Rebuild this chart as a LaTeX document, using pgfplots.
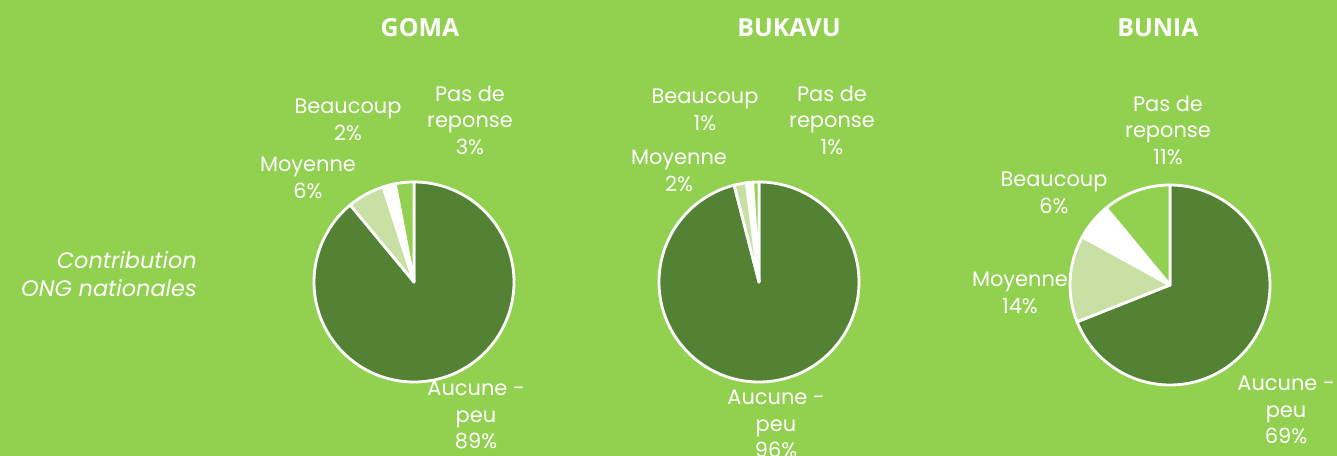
\documentclass[border=0pt]{standalone}
\usepackage{pgfplots}
\pgfplotsset{compat=1.18}
\usepackage{fontspec}
\setmainfont{Poppins}
\newfontfamily\titlefont{Open Sans}
\definecolor{bg}{HTML}{92D050}
\definecolor{dark}{HTML}{548235}
\definecolor{light}{HTML}{C9E0A5}

% pie centred at (#1,#2), slices clockwise from 12 o'clock: value/colour
\newcommand\pie[3]{%
  \xdef\ang{90}%
  \foreach \v/\c in {#3}{%
    \fill[\c,draw=white,line width=2.8bp,line join=round]
      (axis cs:#1,#2) -- ++(\ang:100bp)
      arc[start angle=\ang,delta angle=-3.6*\v,radius=100bp] -- cycle;
    \pgfmathparse{\ang-3.6*\v}\xdef\ang{\pgfmathresult}%
  }}

\tikzset{lab/.style={text=white,align=center,inner sep=0pt,
  font=\fontsize{21}{26.5}\selectfont},
  ttl/.style={text=white,font=\titlefont\bfseries\fontsize{25}{28}\selectfont}}

\begin{document}
\begin{tikzpicture}
\begin{axis}[x=1bp,y=1bp,xmin=0,xmax=1337,ymin=0,ymax=456,
  hide axis,scale only axis,clip=false,anchor=south west,at={(0,0)}]
\pgfplotsextra{%
  \fill[bg] (axis cs:0,0) rectangle (axis cs:1337,456);
  % GOMA
  \pie{414}{174}{89/dark,6/light,2/white,3/bg}
  % BUKAVU
  \pie{759}{174}{96/dark,2/light,1/white,1/bg}
  % BUNIA
  \pie{1170}{171}{69/dark,14/light,6/white,11/bg}
  % titles
  \node[ttl] at (axis cs:420,428) {GOMA};
  \node[ttl] at (axis cs:789,428) {BUKAVU};
  \node[ttl] at (axis cs:1158,428) {BUNIA};
  % side label
  \node[lab,align=right,anchor=east,font=\itshape\fontsize{22.5}{28}\selectfont] at (axis cs:197,182) {Contribution\\ONG nationales};
  % GOMA labels
  \node[lab] at (axis cs:348,336) {Beaucoup\\2\%};
  \node[lab] at (axis cs:470,336) {Pas de\\reponse\\3\%};
  \node[lab] at (axis cs:308,278) {Moyenne\\6\%};
  \node[lab] at (axis cs:476,41) {Aucune -\\peu\\89\%};
  % BUKAVU labels
  \node[lab] at (axis cs:705,346) {Beaucoup\\1\%};
  \node[lab] at (axis cs:832,336) {Pas de\\reponse\\1\%};
  \node[lab] at (axis cs:679,285) {Moyenne\\2\%};
  \node[lab] at (axis cs:776,32) {Aucune -\\peu\\96\%};
  % BUNIA labels
  \node[lab] at (axis cs:1168,326) {Pas de\\reponse\\11\%};
  \node[lab] at (axis cs:1054,263) {Beaucoup\\6\%};
  \node[lab] at (axis cs:1020,163) {Moyenne\\14\%};
  \node[lab] at (axis cs:1286,46) {Aucune -\\peu\\69\%};
}
\end{axis}
\pgfresetboundingbox
\path[use as bounding box] (0,0) rectangle (1337bp,456bp);
\end{tikzpicture}
\end{document}
